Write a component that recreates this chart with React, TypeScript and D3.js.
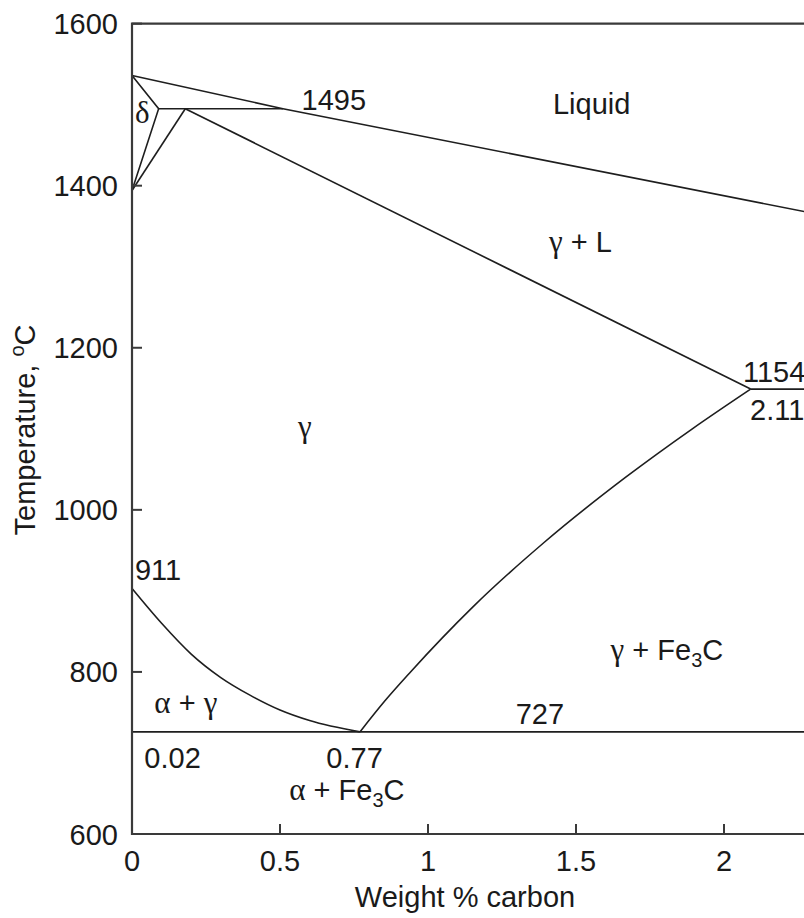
import React from "react";
import * as d3 from "d3";

// ---- data (weight % carbon, temperature °C) ----
const xTicks = [0, 0.5, 1, 1.5, 2];
const yTicks = [600, 800, 1000, 1200, 1400, 1600];
const xTickLabels = ["0", "0.5", "1", "1.5", "2"];
const yTickLabels = ["600", "800", "1000", "1200", "1400", "1600"];

const liquidus: [number, number][] = [[0, 1536], [0.51, 1495], [2.3, 1366]];
const deltaBoundary: [number, number][] = [[0, 1536], [0.09, 1495], [0, 1394]];
const peritectic: [number, number][] = [[0.09, 1495], [0.51, 1495]];
const gammaDelta: [number, number][] = [[0, 1394], [0.18, 1495]];
const solidus: [number, number][] = [[0.18, 1495], [2.09, 1149]];
const eutectic: [number, number][] = [[2.09, 1149], [2.3, 1149]];
const acmLine: [number, number][] = [
  [0.77, 726], [0.856, 765], [0.941, 800], [1.151, 880], [1.393, 960], [1.667, 1040], [1.893, 1100], [2.09, 1149],
];
const a3Line: [number, number][] = [
  [0, 903], [0.1, 860], [0.2, 822], [0.3, 793], [0.4, 771], [0.5, 753], [0.6, 740], [0.77, 726],
];
const eutectoid: [number, number][] = [[0, 726], [2.3, 726]];

type Part = { t: string; greek?: boolean; sub?: boolean };
type Ann = { parts: Part[]; c: number; T: number; anchor: "start" | "middle" };
const annotations: Ann[] = [
  { parts: [{ t: "1495" }], c: 0.682, T: 1493, anchor: "middle" },
  { parts: [{ t: "Liquid" }], c: 1.553, T: 1488, anchor: "middle" },
  { parts: [{ t: "δ", greek: true }], c: 0.035, T: 1477, anchor: "middle" },
  { parts: [{ t: "γ", greek: true }, { t: " + L" }], c: 1.515, T: 1318, anchor: "middle" },
  { parts: [{ t: "1154" }], c: 2.064, T: 1158, anchor: "start" },
  { parts: [{ t: "2.11" }], c: 2.088, T: 1111, anchor: "start" },
  { parts: [{ t: "γ", greek: true }], c: 0.584, T: 1090, anchor: "middle" },
  { parts: [{ t: "911" }], c: 0.01, T: 913, anchor: "start" },
  { parts: [{ t: "γ", greek: true }, { t: " + Fe" }, { t: "3", sub: true }, { t: "C" }], c: 1.807, T: 815, anchor: "middle" },
  { parts: [{ t: "727" }], c: 1.378, T: 736, anchor: "middle" },
  { parts: [{ t: "α", greek: true }, { t: " + " }, { t: "γ", greek: true }], c: 0.182, T: 749, anchor: "middle" },
  { parts: [{ t: "0.02" }], c: 0.137, T: 681, anchor: "middle" },
  { parts: [{ t: "0.77" }], c: 0.752, T: 681, anchor: "middle" },
  { parts: [{ t: "α", greek: true }, { t: " + Fe" }, { t: "3", sub: true }, { t: "C" }], c: 0.726, T: 642, anchor: "middle" },
];

const W = 804;
const H = 918;
const SANS = "'Liberation Sans', Arial, Helvetica, sans-serif";
const SERIF = "'Liberation Serif', 'Times New Roman', serif";
const FS = 29;

export default function App() {
  const x = d3.scaleLinear().domain([0, 2.3]).range([132, 132 + 2.3 * 296]);
  const y = d3.scaleLinear().domain([600, 1600]).range([834, 23.6]);
  const line = d3.line<[number, number]>().x((d) => x(d[0])).y((d) => y(d[1]));
  const curve = d3
    .line<[number, number]>()
    .x((d) => x(d[0]))
    .y((d) => y(d[1]))
    .curve(d3.curveMonotoneX);

  const straight = [liquidus, deltaBoundary, peritectic, gammaDelta, solidus, eutectic, eutectoid];
  const curved = [acmLine, a3Line];
  const x0 = x(0);
  const xr = x(2.3);
  const yb = y(600);
  const yt = y(1600);
  const axisColor = "#3a3a3a";
  const lineColor = "#1e1e1e";
  const textColor = "#1a1a1a";

  return (
    <svg
      width={W}
      height={H}
      style={{ position: "absolute", left: 0, top: 0, background: "#fff" }}
      fontFamily={SANS}
    >
      {/* phase boundaries */}
      {straight.map((d, i) => (
        <path key={"s" + i} d={line(d) || ""} fill="none" stroke={lineColor} strokeWidth={1.6} strokeLinejoin="miter" />
      ))}
      {curved.map((d, i) => (
        <path key={"c" + i} d={curve(d) || ""} fill="none" stroke={lineColor} strokeWidth={1.6} />
      ))}

      {/* frame */}
      <path
        d={`M${xr},${yt}H${x0}V${yb}H${xr}`}
        fill="none"
        stroke={axisColor}
        strokeWidth={2.2}
      />
      {yTicks.map((t) => (
        <line key={"yt" + t} x1={x0} x2={x0 + 10} y1={y(t)} y2={y(t)} stroke={axisColor} strokeWidth={2} />
      ))}
      {xTicks.map((t) => (
        <line key={"xt" + t} x1={x(t)} x2={x(t)} y1={yb} y2={yb - 10} stroke={axisColor} strokeWidth={2} />
      ))}

      {/* tick labels */}
      {yTicks.map((t, i) => (
        <text key={"yl" + t} x={x0 - 14} y={y(t) + 10.5} textAnchor="end" fontSize={FS} fill={textColor}>
          {yTickLabels[i]}
        </text>
      ))}
      {xTicks.map((t, i) => (
        <text key={"xl" + t} x={x(t)} y={yb + 37} textAnchor="middle" fontSize={FS} fill={textColor}>
          {xTickLabels[i]}
        </text>
      ))}

      {/* axis titles */}
      <text x={465} y={907} textAnchor="middle" fontSize={FS} fill={textColor}>
        Weight % carbon
      </text>
      <text
        transform={`translate(35,430) rotate(-90)`}
        textAnchor="middle"
        fontSize={FS}
        fill={textColor}
      >
        Temperature,{" "}
        <tspan fontSize={20} dy={-11}>o</tspan>
        <tspan dy={11}>C</tspan>
      </text>

      {/* region / point annotations */}
      {annotations.map((a, i) => (
        <text key={"a" + i} x={x(a.c)} y={y(a.T)} textAnchor={a.anchor} fontSize={FS} fill={textColor}>
          {a.parts.map((p, j) => {
            if (p.greek)
              return (
                <tspan key={j} fontFamily={SERIF} fontSize={31}>
                  {p.t}
                </tspan>
              );
            if (p.sub)
              return (
                <tspan key={j} fontSize={20} dy={7}>
                  {p.t}
                </tspan>
              );
            const prevSub = j > 0 && a.parts[j - 1].sub;
            return (
              <tspan key={j} dy={prevSub ? -7 : undefined}>
                {p.t}
              </tspan>
            );
          })}
        </text>
      ))}
    </svg>
  );
}
